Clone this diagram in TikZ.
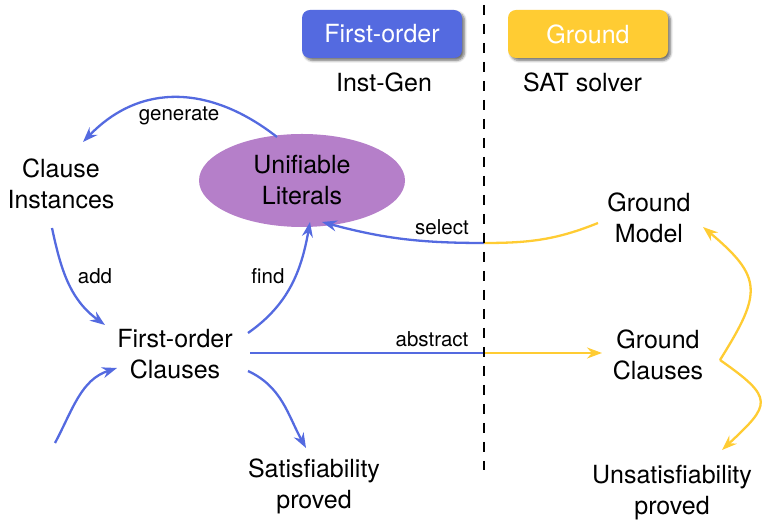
\documentclass[tikz,border=0pt]{standalone}
\usepackage{fontspec}
\setmainfont{TeX Gyre Heros}
\usetikzlibrary{arrows.meta,shadows.blur,calc,shapes.geometric}
\definecolor{foblue}{RGB}{84,106,224}
\definecolor{gryellow}{RGB}{255,204,51}
\definecolor{litpurple}{RGB}{181,127,201}
\begin{document}
\begin{tikzpicture}[x=1pt,y=1pt,
  every node/.style={inner sep=0pt},
  big/.style={font=\fontsize{25}{31}\selectfont, align=center},
  small/.style={font=\fontsize{20.5}{24}\selectfont, anchor=base},
  tag/.style={rounded corners=8pt, minimum width=160pt, minimum height=48pt,
    text=white, font=\fontsize{25}{30}\selectfont,
    blur shadow={shadow xshift=2.5pt, shadow yshift=-2.5pt, shadow blur radius=2.5pt,
      shadow blur steps=6, shadow opacity=55}},
  tip/.style={-{Stealth[length=15pt,width=11pt,inset=5pt]}},
  blueline/.style={draw=foblue, line width=2.3pt},
  yellowline/.style={draw=gryellow, line width=2.3pt},
  divider/.style={draw=black, line width=2.3pt, dash pattern=on 10pt off 9pt}]
\useasboundingbox (0,0) rectangle (763,521);

% header boxes and captions
\node[tag, fill=foblue] (fob) at (382,487) {First-order};
\node[tag, fill=gryellow] (grb) at (588,487) {Ground};
\node[big, anchor=base] (ig) at (384,429) {Inst-Gen};
\node[big, anchor=base] (sat) at (582.5,429) {SAT solver};

% nodes
\node[ellipse, fill=litpurple, minimum width=206pt, minimum height=93pt, big] (ul) at (302,340.5) {Unifiable\\Literals};
\node[big] (ci) at (61,337.5) {Clause\\Instances};
\node[big] (foc) at (175,166.5) {First-order\\Clauses};
\node[big] (sp) at (314,35) {Satisfiability\\proved};
\node[big] (gm) at (649,303.5) {Ground\\Model};
\node[big] (gc) at (658,166.5) {Ground\\Clauses};
\node[big] (up) at (672,28.5) {Unsatisfiability\\proved};

% points on the divider and the free input end
\coordinate (sel) at (484,278);
\coordinate (abs) at (484,168);
\coordinate (src) at (55,78);

% first-order loop
\draw[blueline, tip] ($(ul)+(-25,43.5)$) to[out=142, in=46, looseness=1.1] ($(ci)+(22,41.5)$);
\draw[blueline, tip] ($(ci)+(-9,-44.5)$) to[out=-78, in=144] ($(foc)+(-70,29.5)$);
\draw[blueline, tip] ($(foc)+(73,21.5)$) to[out=35, in=-100] ($(ul)+(8,-41.5)$);
\draw[blueline, tip] (src) to[out=62, in=198] ($(foc)+(-58,-13.5)$);
\draw[blueline, tip] ($(foc)+(73,-16.5)$) to[out=-25, in=119] ($(sp)+(-8,38)$);

% select: ground model back to the literals
\draw[yellowline] (sel) to[out=0, in=202] ($(gm)+(-51,-5.5)$);
\draw[blueline, tip] (sel) to[out=180, in=-15] ($(ul)+(20,-41.5)$);

% abstract: first-order clauses to ground clauses
\draw[blueline] ($(foc)+(75,1.5)$) -- (abs);
\draw[yellowline, tip] (abs) -- ($(gc)+(-56,1.5)$);

% SAT solver outcomes
\draw[yellowline, tip] ($(gc)+(62,-5.5)$) to[out=58, in=-40, looseness=1.5] ($(gm)+(54,-9.5)$);
\draw[yellowline, tip] ($(gc)+(62,-5.5)$) to[out=-35, in=43, looseness=1.9] ($(up)+(50,42.5)$);

% edge labels
\node[small] (lgen) at (179,400) {generate};
\node[small] (ladd) at (95,237) {add};
\node[small] (lfind) at (268,237) {find};
\node[small] (lsel) at (442,286) {select};
\node[small] (labs) at (432,174) {abstract};

% divider between first-order and ground side
\draw[divider] (484,516) -- (484,51);
\end{tikzpicture}
\end{document}
